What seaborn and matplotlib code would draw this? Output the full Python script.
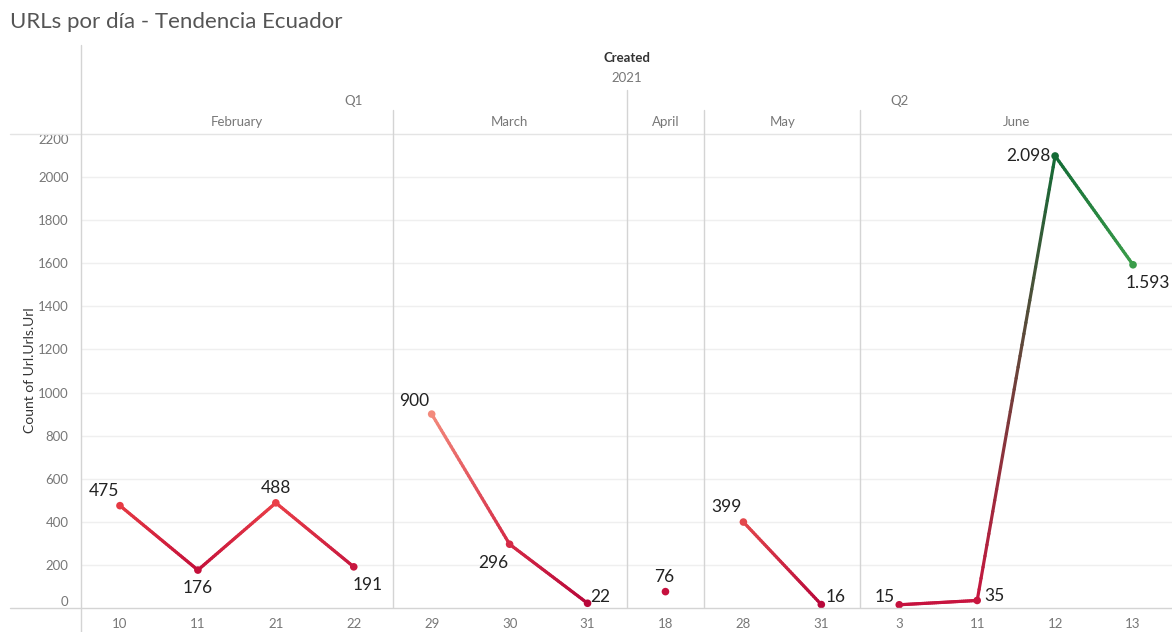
import numpy as np
import pandas as pd
import matplotlib
matplotlib.use("Agg")
import matplotlib.pyplot as plt
from matplotlib.collections import LineCollection
from matplotlib.colors import to_rgb
import seaborn as sns

# ---- data ----
quarters = ["Q1", "Q2"]
months = ["February", "March", "April", "May", "June"]
month_quarter = ["Q1", "Q1", "Q2", "Q2", "Q2"]
days = [
    ["10", "11", "21", "22"],
    ["29", "30", "31"],
    ["18"],
    ["28", "31"],
    ["3", "11", "12", "13"],
]
counts = [
    [475, 176, 488, 191],
    [900, 296, 22],
    [76],
    [399, 16],
    [15, 35, 2098, 1593],
]
point_colors = [
    ["#e63a43", "#c40f3a", "#ea4048", "#c8173f"],
    ["#f38a7c", "#d52a46", "#b8073a"],
    ["#c6103e"],
    ["#e3484c", "#b8073a"],
    ["#c5103d", "#c8163f", "#146b36", "#3a9d4a"],
]
y_ticks = list(range(0, 2201, 200))

# ---- build long table ----
rows = []
pos = 0
for mname, dlist, clist, col in zip(months, days, counts, point_colors):
    for d, c, k in zip(dlist, clist, col):
        rows.append(dict(month=mname, day=d, count=c, color=k, x=pos + 0.5))
        pos += 1
df = pd.DataFrame(rows)
n_cat = pos


def fmt(v):
    return f"{v:,}".replace(",", ".")


sns.set_style("white")
plt.rcParams["font.family"] = ["Lato", "DejaVu Sans"]

W, H = 1172, 632
fig = plt.figure(figsize=(W / 100, H / 100), dpi=100)

# plot area in pixel coordinates
px_left, px_right = 81, 1172
px_top, px_bottom = 134, 608
ax = fig.add_axes([px_left / W, 1 - px_bottom / H, (px_right - px_left) / W, (px_bottom - px_top) / H])
ax.set_ylim(0, 2200)
ax.set_xlim(0, n_cat)

grid_c = "#efefef"
sep_c = "#d4d4d4"
for t in y_ticks[1:-1]:
    ax.axhline(t, color=grid_c, lw=1, zorder=0)

# gradient lines within each month
for mname in months:
    sub = df[df.month == mname]
    xs, ys, cs = sub.x.values, sub["count"].values, [to_rgb(c) for c in sub.color]
    for i in range(len(xs) - 1):
        n = 40
        t = np.linspace(0, 1, n + 1)
        px = xs[i] + (xs[i + 1] - xs[i]) * t
        py = ys[i] + (ys[i + 1] - ys[i]) * t
        segs = np.stack([np.column_stack([px[:-1], py[:-1]]), np.column_stack([px[1:], py[1:]])], axis=1)
        c0, c1 = np.array(cs[i]), np.array(cs[i + 1])
        tm = (t[:-1] + t[1:]) / 2
        cols = c0[None, :] * (1 - tm[:, None]) + c1[None, :] * tm[:, None]
        ax.add_collection(LineCollection(segs, colors=cols, linewidths=2.3, capstyle="round",
                                         zorder=2, clip_on=False))

sns.scatterplot(data=df, x="x", y="count", hue="color", palette={c: c for c in df.color.unique()},
                s=30, linewidth=0, legend=False, ax=ax, zorder=3, clip_on=False)

# value labels (pixel offsets from each point)
offsets = [
    (-16, 15), (0, -18), (0, 15), (14, -18),
    (-17, 13), (-16, -19), (13, 6),
    (-1, 15),
    (-17, 15), (14, 8),
    (-15, 8), (17, 4), (-27, 0), (15, -18),
]
for (xv, yv, lab), (dx, dy) in zip(zip(df.x, df["count"], df["count"].map(fmt)), offsets):
    ax.annotate(lab, (xv, yv), xytext=(dx, dy), textcoords="offset pixels",
                ha="center", va="center", fontsize=12.5, color="#222222", zorder=4)

# month separators
bounds = np.cumsum([len(d) for d in days])[:-1]
for b in bounds:
    ax.axvline(b, color=sep_c, lw=1, zorder=1)

ax.set_xticks(df.x)
ax.set_xticklabels(df.day)
ax.set_yticks(y_ticks)
ax.tick_params(axis="both", length=0, labelsize=9.5, labelcolor="#777777")
ax.tick_params(axis="x", pad=7)
ax.tick_params(axis="y", pad=9)
ylabels = ax.get_yticklabels()
ylabels[0].set_va("bottom")
ylabels[-1].set_va("top")
for s in ax.spines.values():
    s.set_visible(False)
ax.set_xlabel("")
ax.set_ylabel("")


# figure-level lines and headers
def fx(p):
    return p / W


def fy(p):
    return 1 - p / H


def hline(y, x0, x1, c=sep_c):
    fig.add_artist(plt.Line2D([fx(x0), fx(x1)], [fy(y), fy(y)], color=c, lw=1))


def vline(x, y0, y1, c=sep_c):
    fig.add_artist(plt.Line2D([fx(x), fx(x)], [fy(y0), fy(y1)], color=c, lw=1))


hline(px_top, 10, W, "#e4e4e4")
hline(px_bottom, 10, W, "#d4d4d4")
vline(px_left, 45, H)


def cat_px(i):
    return px_left + (px_right - px_left) * i / n_cat


q_split = cat_px(sum(len(d) for d, q in zip(days, month_quarter) if q == "Q1"))
vline(q_split, 90, px_top)
start = 0
for mname, d in zip(months, days):
    end = start + len(d)
    if start > 0 and cat_px(start) != q_split:
        vline(cat_px(start), 110, px_top)
    fig.text(fx((cat_px(start) + cat_px(end)) / 2), fy(122), mname, ha="center", va="center",
             fontsize=9.5, color="#777777")
    start = end

fig.text(fx((px_left + q_split) / 2), fy(101), quarters[0], ha="center", va="center", fontsize=9.5, color="#777777")
fig.text(fx((q_split + px_right) / 2), fy(101), quarters[1], ha="center", va="center", fontsize=9.5, color="#777777")
fig.text(fx(q_split), fy(78), "2021", ha="center", va="center", fontsize=9.5, color="#777777")
fig.text(fx(q_split), fy(58), "Created", ha="center", va="center", fontsize=9.5, color="#333333", fontweight="bold")

fig.text(fx(30), fy(370), "Count of Url.Urls.Url", rotation=90, ha="center", va="center",
         fontsize=10, color="#333333")
fig.text(fx(10), fy(22), "URLs por día - Tendencia Ecuador", ha="left", va="center",
         fontsize=16, color="#555555")

fig.savefig("out.png", dpi=100, facecolor="white")
